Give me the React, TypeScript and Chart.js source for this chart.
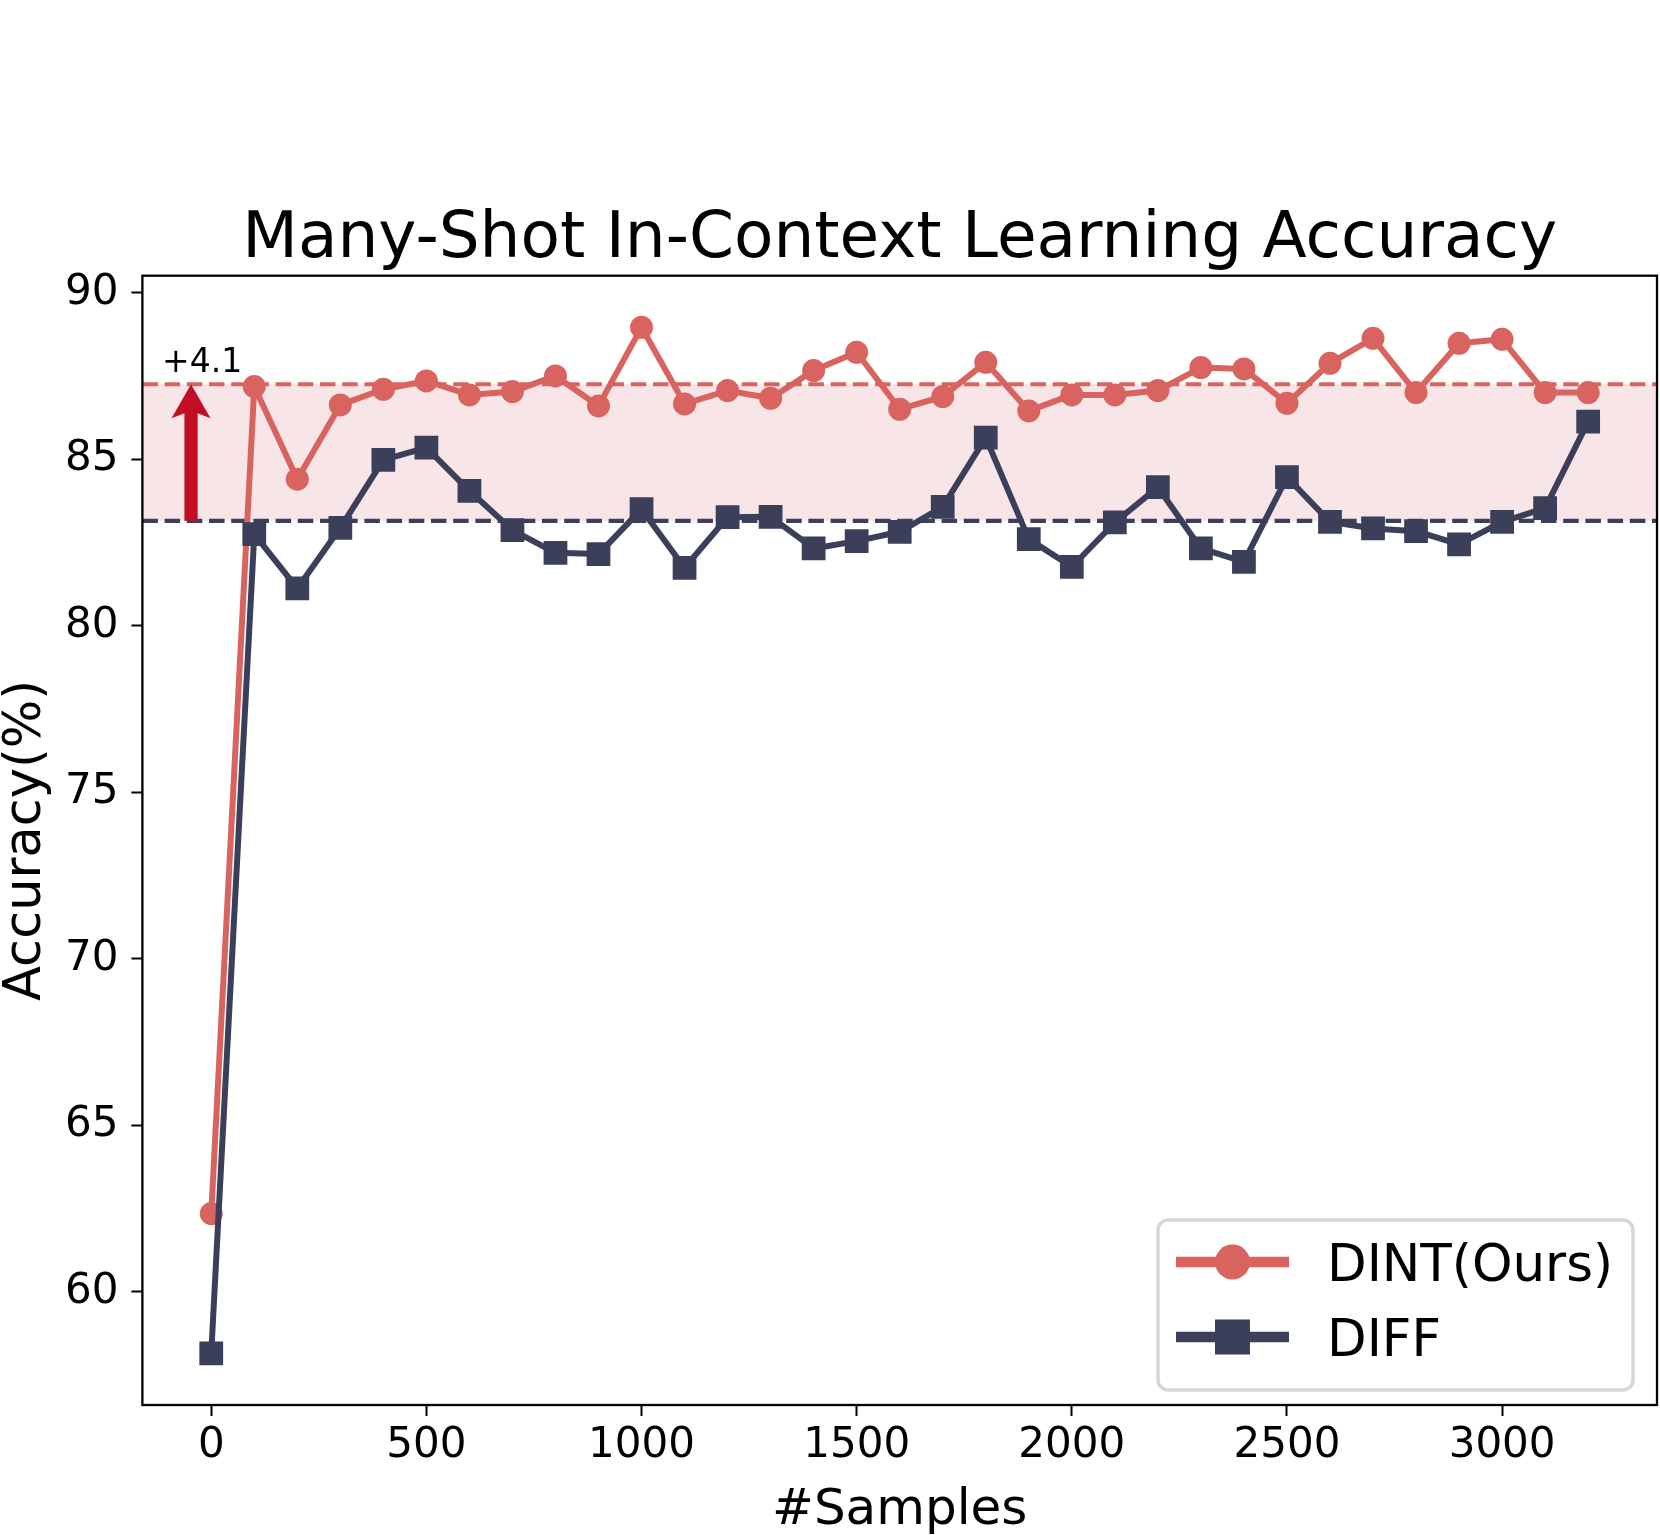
import React, { useEffect, useRef } from 'react';
import { Chart, registerables } from 'chart.js';

Chart.register(...registerables);

// ---------------- data ----------------
const samples = [
  0, 100, 200, 300, 400, 500, 600, 700, 800, 900, 1000, 1100, 1200, 1300, 1400, 1500, 1600,
  1700, 1800, 1900, 2000, 2100, 2200, 2300, 2400, 2500, 2600, 2700, 2800, 2900, 3000, 3100, 3200,
];
const dintAcc = [
  62.35, 87.18, 84.4, 86.63, 87.1, 87.35, 86.93, 87.03, 87.5, 86.6, 88.96, 86.66, 87.06, 86.83,
  87.66, 88.21, 86.5, 86.88, 87.91, 86.45, 86.93, 86.93, 87.06, 87.75, 87.71, 86.68, 87.88,
  88.63, 87.0, 88.48, 88.6, 87.0, 87.0,
];
const diffAcc = [
  58.15, 82.75, 81.12, 82.94, 84.98, 85.35, 84.05, 82.87, 82.19, 82.15, 83.5, 81.74, 83.26,
  83.27, 82.32, 82.54, 82.82, 83.57, 85.65, 82.6, 81.77, 83.1, 84.16, 82.32, 81.92, 84.46,
  83.12, 82.92, 82.84, 82.44, 83.12, 83.53, 86.13,
];
const seriesLabels = ['DINT(Ours)', 'DIFF'];
const xTicks = [0, 500, 1000, 1500, 2000, 2500, 3000];
const yTicks = [60, 65, 70, 75, 80, 85, 90];
const dintRef = 87.25;
const diffRef = 83.15;
const gainText = '+4.1';
const arrowAt = -47;
const titleText = 'Many-Shot In-Context Learning Accuracy';
const xLabel = '#Samples';
const yLabel = 'Accuracy(%)';

// ---------------- style ----------------
const RED = '#d9645f';
const BLUE = '#3b3f5a';
const BAND = '#f8e5e8';
const ARROW = '#c30d23';
const FONT = '"DejaVu Sans", "Noto Sans", sans-serif';

const decorPlugin = {
  id: 'decor',
  beforeDatasetsDraw(chart: any) {
    const { ctx, chartArea: a, scales } = chart;
    const x = scales.x;
    const y = scales.y;
    const yTop = y.getPixelForValue(dintRef);
    const yBot = y.getPixelForValue(diffRef);
    ctx.save();
    ctx.beginPath();
    ctx.rect(a.left, a.top, a.right - a.left, a.bottom - a.top);
    ctx.clip();
    ctx.fillStyle = BAND;
    ctx.fillRect(a.left, yTop, a.right - a.left, yBot - yTop);
    ctx.lineWidth = 4.2;
    ctx.setLineDash([15.5, 6.7]);
    ctx.strokeStyle = RED;
    ctx.beginPath();
    ctx.moveTo(a.left, yTop);
    ctx.lineTo(a.right, yTop);
    ctx.stroke();
    ctx.strokeStyle = BLUE;
    ctx.beginPath();
    ctx.moveTo(a.left, yBot);
    ctx.lineTo(a.right, yBot);
    ctx.stroke();
    ctx.setLineDash([]);
    // arrow
    const ax = x.getPixelForValue(arrowAt);
    ctx.fillStyle = ARROW;
    ctx.beginPath();
    ctx.moveTo(ax, yTop);
    ctx.lineTo(ax + 19.5, yTop + 34);
    ctx.lineTo(ax + 6.6, yTop + 29);
    ctx.lineTo(ax + 6.6, yBot);
    ctx.lineTo(ax - 6.6, yBot);
    ctx.lineTo(ax - 6.6, yTop + 29);
    ctx.lineTo(ax - 19.5, yTop + 34);
    ctx.closePath();
    ctx.fill();
    ctx.restore();
    // gain text
    ctx.save();
    ctx.fillStyle = '#000';
    ctx.font = `33px ${FONT}`;
    ctx.textAlign = 'left';
    ctx.textBaseline = 'alphabetic';
    ctx.fillText(gainText, ax - 29, yTop - 12);
    ctx.restore();
  },
  afterDraw(chart: any) {
    const { ctx, chartArea: a } = chart;
    ctx.save();
    // frame
    ctx.strokeStyle = '#000';
    ctx.lineWidth = 2.3;
    ctx.strokeRect(a.left, a.top, a.right - a.left, a.bottom - a.top);
    // title
    const cx = (a.left + a.right) / 2;
    const cy = (a.top + a.bottom) / 2;
    ctx.fillStyle = '#000';
    ctx.textAlign = 'center';
    ctx.textBaseline = 'alphabetic';
    ctx.font = `64.5px ${FONT}`;
    ctx.fillText(titleText, cx, a.top - 18.7);
    // x label
    ctx.font = `50px ${FONT}`;
    ctx.fillText(xLabel, cx, a.bottom + 119);
    // y label
    ctx.save();
    ctx.translate(40, cy);
    ctx.rotate(-Math.PI / 2);
    ctx.font = `51px ${FONT}`;
    ctx.fillText(yLabel, 0, 0);
    ctx.restore();

    // legend
    const bw = 475;
    const bh = 170;
    const bx = a.right - 24 - bw;
    const by = a.bottom - 15 - bh;
    ctx.fillStyle = 'rgba(255,255,255,0.8)';
    ctx.strokeStyle = '#d6d6d6';
    ctx.lineWidth = 3.5;
    ctx.beginPath();
    ctx.roundRect(bx, by, bw, bh, 10);
    ctx.fill();
    ctx.stroke();
    const rows = [
      { label: chart.data.datasets[0].label, color: RED, style: 'circle', cyOff: 42 },
      { label: chart.data.datasets[1].label, color: BLUE, style: 'rect', cyOff: 117 },
    ];
    rows.forEach((r) => {
      const ly = by + r.cyOff;
      const lx0 = bx + 18;
      const lx1 = bx + 131;
      ctx.strokeStyle = r.color;
      ctx.lineWidth = 10.5;
      ctx.beginPath();
      ctx.moveTo(lx0, ly);
      ctx.lineTo(lx1, ly);
      ctx.stroke();
      ctx.fillStyle = r.color;
      const mx = (lx0 + lx1) / 2;
      if (r.style === 'circle') {
        ctx.beginPath();
        ctx.arc(mx, ly, 17.5, 0, Math.PI * 2);
        ctx.fill();
      } else {
        ctx.fillRect(mx - 17.5, ly - 17.5, 35, 35);
      }
      ctx.fillStyle = '#000';
      ctx.textAlign = 'left';
      ctx.font = `51.5px ${FONT}`;
      ctx.fillText(r.label, bx + 169, ly + 19);
    });
    ctx.restore();
  },
};

export default function App() {
  const ref = useRef<HTMLCanvasElement | null>(null);

  useEffect(() => {
    if (!ref.current) return;
    const chart = new Chart(ref.current, {
      type: 'line',
      data: {
        datasets: [
          {
            label: seriesLabels[0],
            data: samples.map((s, i) => ({ x: s, y: dintAcc[i] })),
            borderColor: RED,
            backgroundColor: RED,
            borderWidth: 6,
            borderJoinStyle: 'round',
            pointStyle: 'circle',
            pointRadius: 11.5,
            pointBorderWidth: 0,
            pointBackgroundColor: RED,
            tension: 0,
            order: 2,
          },
          {
            label: seriesLabels[1],
            data: samples.map((s, i) => ({ x: s, y: diffAcc[i] })),
            borderColor: BLUE,
            backgroundColor: BLUE,
            borderWidth: 6,
            borderJoinStyle: 'round',
            pointStyle: 'rect',
            pointRadius: 16.8,
            pointBorderWidth: 0,
            pointBackgroundColor: BLUE,
            tension: 0,
            order: 1,
          },
        ],
      },
      options: {
        responsive: false,
        animation: false,
        devicePixelRatio: 1,
        events: [],
        layout: { autoPadding: false, padding: { top: 275.7, right: 3, left: 0, bottom: 0 } },
        plugins: {
          legend: { display: false },
          title: { display: false },
          tooltip: { enabled: false },
        },
        scales: {
          x: {
            type: 'linear',
            min: -160,
            max: 3360,
            afterBuildTicks: (s: any) => {
              s.ticks = xTicks.map((v) => ({ value: v }));
            },
            afterFit: (s: any) => {
              s.height = 130;
              s.paddingLeft = 0;
              s.paddingRight = 0;
            },
            grid: {
              drawOnChartArea: false,
              drawTicks: true,
              tickLength: 11,
              tickWidth: 2,
              tickColor: '#000',
            },
            border: { display: false },
            ticks: {
              color: '#000',
              font: { family: FONT, size: 42 },
              padding: 5,
              maxRotation: 0,
              autoSkip: false,
              callback: (v: any) => String(v),
            },
          },
          y: {
            type: 'linear',
            min: 56.6,
            max: 90.51,
            afterBuildTicks: (s: any) => {
              s.ticks = yTicks.map((v) => ({ value: v }));
            },
            afterFit: (s: any) => {
              s.width = 142.4;
              s.paddingTop = 0;
              s.paddingBottom = 0;
            },
            grid: {
              drawOnChartArea: false,
              drawTicks: true,
              tickLength: 11,
              tickWidth: 2,
              tickColor: '#000',
            },
            border: { display: false },
            ticks: {
              color: '#000',
              font: { family: FONT, size: 42 },
              padding: 13,
              autoSkip: false,
              callback: (v: any) => String(v),
            },
          },
        },
      },
      plugins: [decorPlugin],
    } as any);
    return () => chart.destroy();
  }, []);

  return (
    <div style={{ position: 'absolute', left: 0, top: 0, width: 1660, height: 1535, background: '#fff' }}>
      <canvas ref={ref} width={1660} height={1535} style={{ display: 'block', width: 1660, height: 1535 }} />
    </div>
  );
}
